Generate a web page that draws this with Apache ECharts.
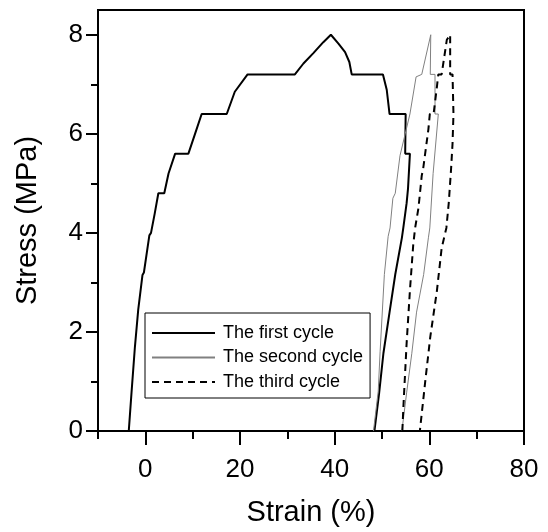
<!DOCTYPE html>
<html>
<head>
<meta charset="utf-8">
<script src="https://cdn.jsdelivr.net/npm/echarts@6/dist/echarts.min.js"></script>
<style>
html, body { margin: 0; padding: 0; background: #fff; }
#main { width: 548px; height: 532px; }
</style>
</head>
<body>
<div id="main"></div>
<script>
var seriesNames = ['The first cycle', 'The second cycle', 'The third cycle'];

// [strain %, stress MPa]
var firstCycle = [
    [-3.5, 0], [-2.9, 0.8], [-2.2, 1.7], [-1.5, 2.45], [-0.6, 3.15], [-0.3, 3.2],
    [0.85, 3.95], [1.2, 4.0], [2.0, 4.4], [2.75, 4.8], [4.0, 4.8], [4.9, 5.2],
    [6.3, 5.6], [9.1, 5.6], [10.5, 6.0], [11.9, 6.4], [17.2, 6.4], [18.9, 6.85],
    [21.6, 7.2], [31.6, 7.2], [33.4, 7.42], [35.5, 7.63], [37.6, 7.85], [39.2, 8.0],
    [40.8, 7.82], [42.2, 7.65], [43.1, 7.45], [43.6, 7.2], [50.2, 7.2], [51.0, 6.89],
    [51.6, 6.4], [55.0, 6.4], [54.9, 5.6], [55.9, 5.6], [55.5, 4.9], [55.2, 4.6],
    [54.5, 4.1], [54.2, 3.9], [52.8, 3.16], [51.6, 2.4], [50.3, 1.57], [49.4, 0.77],
    [48.4, 0]
];
var secondCycle = [
    [48.2, 0], [49.2, 0.8], [49.6, 1.6], [50.5, 3.16], [51.3, 3.93], [51.7, 4.1],
    [52.3, 4.7], [52.8, 4.8], [53.8, 5.56], [54.2, 5.6], [55.9, 6.4], [57.2, 7.15],
    [58.4, 7.2], [60.3, 8.0], [60.2, 7.2], [61.2, 7.2], [61.2, 6.4], [61.9, 6.4],
    [60.8, 5.2], [60.1, 4.1], [59.8, 3.9], [58.8, 3.16], [57.3, 2.4], [56.3, 1.57],
    [55.2, 0.77], [54.2, 0]
];
var thirdCycle = [
    [54.3, 0], [54.5, 0.45], [55.2, 1.77], [55.9, 2.84], [56.6, 3.76], [57.0, 4.1],
    [57.7, 4.5], [58.4, 5.16], [58.7, 5.3], [59.8, 6.09], [60.1, 6.4], [60.9, 6.4],
    [61.6, 6.95], [61.9, 7.2], [62.6, 7.2], [63.7, 7.9], [64.4, 8.0], [64.4, 7.2],
    [64.9, 7.2], [65.1, 6.4], [64.9, 5.8], [64.6, 5.3], [64.1, 4.6], [63.6, 4.1],
    [62.6, 3.69], [61.6, 2.83], [60.2, 1.9], [59.1, 0.97], [58.0, 0]
];

var xMajorTicks = [0, 20, 40, 60, 80];
var xMinorTicks = [-10, 10, 30, 50, 70];
var yMajorTicks = [0, 2, 4, 6, 8];
var yMinorTicks = [1, 3, 5, 7];

var font = 'Liberation Sans, Arial, sans-serif';

var myChart = echarts.init(document.getElementById('main'));
var option = {
    backgroundColor: '#fff',
    animation: false,
    textStyle: { fontFamily: font, color: '#000' },
    grid: {
        left: 98,
        right: 24,
        top: 10,
        bottom: 97,
        show: true,
        borderColor: '#000',
        borderWidth: 2
    },
    legend: {
        data: seriesNames,
        orient: 'vertical',
        left: 145,
        top: 313,
        padding: [11, 7, 7, 6],
        itemWidth: 63,
        itemHeight: 14,
        itemGap: 6.5,
        borderColor: '#000',
        borderWidth: 1,
        itemStyle: { opacity: 0 },
        textStyle: { fontFamily: font, fontSize: 18, color: '#000', padding: [0, 0, 0, 3] }
    },
    xAxis: [{
        type: 'value',
        min: -10,
        max: 80,
        position: 'bottom',
        name: 'Strain (%)',
        nameLocation: 'middle',
        nameGap: 67,
        nameTextStyle: { fontFamily: font, fontSize: 29, color: '#000' },
        axisLine: { onZero: false, lineStyle: { color: '#000', width: 2 } },
        axisTick: { customValues: xMajorTicks, length: 14, lineStyle: { color: '#000', width: 2 } },
        axisLabel: { customValues: xMajorTicks, fontFamily: font, fontSize: 26, color: '#000', margin: 26 },
        splitLine: { show: false }
    }, {
        type: 'value',
        min: -10,
        max: 80,
        position: 'bottom',
        axisLine: { show: false, onZero: false },
        axisTick: { customValues: xMinorTicks, length: 8, lineStyle: { color: '#000', width: 2 } },
        axisLabel: { show: false },
        splitLine: { show: false }
    }],
    yAxis: [{
        type: 'value',
        min: 0,
        max: 8.5,
        position: 'left',
        name: 'Stress (MPa)',
        nameLocation: 'middle',
        nameGap: 56,
        nameTextStyle: { fontFamily: font, fontSize: 29, color: '#000' },
        axisLine: { onZero: false, lineStyle: { color: '#000', width: 2 } },
        axisTick: { customValues: yMajorTicks, length: 12, lineStyle: { color: '#000', width: 2 } },
        axisLabel: { customValues: yMajorTicks, fontFamily: font, fontSize: 26, color: '#000', margin: 15 },
        splitLine: { show: false }
    }, {
        type: 'value',
        min: 0,
        max: 8.5,
        position: 'left',
        axisLine: { show: false, onZero: false },
        axisTick: { customValues: yMinorTicks, length: 7, lineStyle: { color: '#000', width: 2 } },
        axisLabel: { show: false },
        splitLine: { show: false }
    }],
    series: [{
        name: seriesNames[0],
        type: 'line',
        data: firstCycle,
        symbol: 'none',
        lineStyle: { color: '#000', width: 2 },
        itemStyle: { color: '#000' }
    }, {
        name: seriesNames[1],
        type: 'line',
        data: secondCycle,
        symbol: 'none',
        lineStyle: { color: '#808080', width: 1 },
        itemStyle: { color: '#808080' }
    }, {
        name: seriesNames[2],
        type: 'line',
        data: thirdCycle,
        symbol: 'none',
        lineStyle: { color: '#000', width: 2, type: [7, 5] },
        itemStyle: { color: '#000' }
    }]
};
myChart.setOption(option);
</script>
</body>
</html>
